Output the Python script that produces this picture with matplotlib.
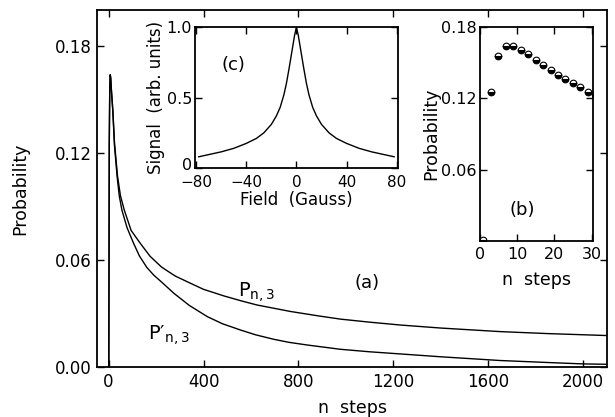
import matplotlib
matplotlib.use("Agg")
import matplotlib.pyplot as plt
from matplotlib.transforms import ScaledTranslation

plt.rcParams['font.family'] = ['DejaVu Sans']
plt.rcParams['font.size'] = 12

# main panel (a): P_n,3 and P'_n,3 vs n steps
n_upper = [0, 1, 3, 5, 7, 9, 12, 18, 25, 38, 50, 66, 95, 133, 175, 223, 280, 345, 400,
           486, 560, 626, 700, 766, 880, 977, 1100, 1229, 1400, 1651, 1850, 2100]
p_upper = [0.0, 0.0, 0.125, 0.156, 0.1637, 0.162, 0.155, 0.144, 0.1254, 0.1067,
           0.096, 0.088, 0.0765, 0.0694, 0.062, 0.056, 0.051, 0.0469, 0.0435,
           0.0398, 0.0370, 0.0347, 0.0328, 0.0311, 0.0287, 0.0268, 0.0251, 0.0235,
           0.0218, 0.0198, 0.0187, 0.0176]
n_lower = [0, 1, 3, 5, 7, 9, 12, 18, 25, 36, 45, 56, 78, 105, 130, 161, 190, 224, 275,
           340, 416, 480, 556, 620, 696, 760, 837, 977, 1100, 1229, 1400, 1651, 1850,
           2000, 2100]
p_lower = [0.0, 0.0, 0.125, 0.156, 0.1637, 0.162, 0.155, 0.143, 0.124, 0.1067,
           0.096, 0.088, 0.078, 0.0694, 0.0622, 0.0558, 0.0515, 0.0475, 0.0413,
           0.0345, 0.0282, 0.0242, 0.0207, 0.0180, 0.0155, 0.0138, 0.0123, 0.0099,
           0.0085, 0.0073, 0.0057, 0.0036, 0.0025, 0.0017, 0.0015]

# inset (b): probability for first steps
n_small = [1, 3, 5, 7, 9, 11, 13, 15, 17, 19, 21, 23, 25, 27, 29, 31]
p_small = [0.001, 0.1253, 0.1558, 0.1642, 0.1642, 0.1608, 0.1573, 0.1523, 0.1481,
           0.1439, 0.1398, 0.1361, 0.1328, 0.1294, 0.1258, 0.1233]

# inset (c): signal vs field
field = [-78, -60, -50, -40, -32, -26, -20, -16, -13, -10, -8, -6, -4.5, -3, -1.5, 0,
         1.5, 3, 4.5, 6, 8, 10, 13, 16, 20, 26, 32, 40, 50, 60, 78]
signal = [0.08, 0.115, 0.14, 0.175, 0.21, 0.25, 0.31, 0.37, 0.43, 0.52, 0.60, 0.70,
          0.78, 0.86, 0.94, 1.0, 0.94, 0.86, 0.78, 0.70, 0.60, 0.52, 0.43, 0.37, 0.31,
          0.25, 0.21, 0.175, 0.14, 0.115, 0.08]

fig = plt.figure(figsize=(6.15, 4.17), dpi=100)


def style(ax, pad=4):
    ax.tick_params(direction='in', top=True, right=True, length=5, width=1, pad=pad)
    for s in ax.spines.values():
        s.set_linewidth(1.3)


ax = fig.add_axes([0.158, 0.120, 0.829, 0.856])
ax.plot(n_upper, p_upper, color='black', lw=1.0)
ax.plot(n_lower, p_lower, color='black', lw=1.0)
ax.set_xlim(-48, 2100)
ax.set_ylim(0, 0.2)
ax.set_xticks([0, 400, 800, 1200, 1600, 2000])
ax.set_yticks([0, 0.06, 0.12, 0.18])
ax.set_yticklabels(['0.00', '0.06', '0.12', '0.18'])
ax.set_xlabel('n  steps', fontsize=12.5, labelpad=6)
ax.set_ylabel('Probability', fontsize=12.5, labelpad=18)
style(ax)
ax.text(1090, 0.047, '(a)', fontsize=13, ha='center', va='center')
ax.text(625, 0.042, r'$\mathregular{P_{n,3}}$', fontsize=14, ha='center', va='center')
ax.text(255, 0.018, '$\\mathregular{P\u2032_{n,3}}$', fontsize=14,
        ha='center', va='center')

# inset (c)
axc = fig.add_axes([0.317, 0.597, 0.330, 0.338])
axc.plot(field, signal, color='black', lw=1.0)
axc.set_xlim(-81, 81)
axc.set_ylim(0, 1.0)
axc.set_xticks([-80, -40, 0, 40, 80])
axc.set_yticks([0, 0.5, 1.0])
axc.set_yticklabels(['0', '0.5', '1.0'])
axc.set_xlabel('Field  (Gauss)', fontsize=12, labelpad=1)
axc.set_ylabel('Signal  (arb. units)', fontsize=12, labelpad=1)
style(axc, pad=2)
axc.tick_params(axis='x', pad=5, labelsize=11)
axc.tick_params(axis='y', labelsize=11.5)
zero_lbl = axc.get_yticklabels()[0]
zero_lbl.set_transform(zero_lbl.get_transform()
                       + ScaledTranslation(0, 3 / 72, fig.dpi_scale_trans))
axc.text(-50, 0.73, '(c)', fontsize=13, ha='center', va='center')

# inset (b)
axb = fig.add_axes([0.780, 0.422, 0.185, 0.513])
axb.plot(n_small, p_small, linestyle='none', marker='o', markersize=4.8,
         fillstyle='bottom', markerfacecolor='black', markerfacecoloralt='white',
         markeredgecolor='black', markeredgewidth=0.8, clip_on=True)
axb.set_xlim(0, 30.5)
axb.set_ylim(0, 0.18)
axb.set_xticks([0, 10, 20, 30])
axb.set_yticks([0.06, 0.12, 0.18])
axb.set_xlabel('n  steps', fontsize=12.5, labelpad=7)
axb.set_ylabel('Probability', fontsize=12.5, labelpad=1)
style(axb, pad=2)
axb.tick_params(axis='x', pad=4, labelsize=11.5)
axb.tick_params(axis='y', labelsize=11.5)
axb.text(11.5, 0.026, '(b)', fontsize=13, ha='center', va='center')

fig.savefig('out.png', dpi=100)
